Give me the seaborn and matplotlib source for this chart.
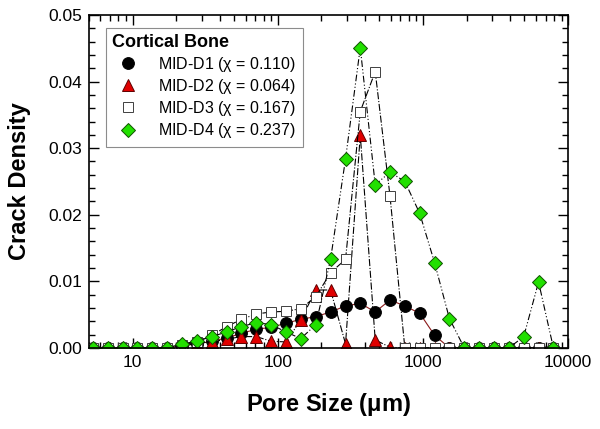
import numpy as np
import pandas as pd
import matplotlib
matplotlib.use("Agg")
import matplotlib.pyplot as plt
from matplotlib.lines import Line2D
from matplotlib.ticker import FixedLocator, NullFormatter, MultipleLocator, FormatStrFormatter
import seaborn as sns

# Porengroesse (um), logarithmische Klassen
pore_size = [5.33, 6.75, 8.55, 10.8, 13.7, 17.3, 21.9, 27.7, 35.1, 44.5, 56.2,
             71.2, 90.1, 114, 144, 183, 231, 293, 370, 469, 593, 750, 950,
             1202, 1521, 1926, 2438, 3085, 3903, 4940, 6252, 7912]

# Rissdichte je Probe
d1 = [0, 0, 0, 0, 0, 0, 0.0003, 0.0006, 0.0010, 0.0015, 0.0022, 0.0028,
      0.0031, 0.0037, 0.0043, 0.0047, 0.0054, 0.0063, 0.0067, 0.0054, 0.0072,
      0.0063, 0.0052, 0.0019, 0, 0, 0, 0, 0, 0, 0, 0]
d2 = [0, 0, 0, 0, 0, 0, 0.0003, 0.0007, 0.0009, 0.0013, 0.0017, 0.0017,
      0.0010, 0.0009, 0.0042, 0.0087, 0.0087, 0.0006, 0.0320, 0.0012, 0.0001,
      0, 0, 0, 0, 0, 0, 0, 0, 0, 0, 0]
d3 = [0, 0, 0, 0, 0, 0, 0.0004, 0.0009, 0.0019, 0.0032, 0.0043, 0.0051,
      0.0054, 0.0055, 0.0059, 0.0077, 0.0113, 0.0133, 0.0355, 0.0415, 0.0228,
      0, 0, 0, 0, 0, 0, 0, 0, 0, 0, 0]
d4 = [0, 0, 0, 0, 0, 0, 0.0006, 0.0010, 0.0017, 0.0024, 0.0032, 0.0038,
      0.0035, 0.0024, 0.0014, 0.0035, 0.0133, 0.0284, 0.0451, 0.0245, 0.0264,
      0.0250, 0.0202, 0.0128, 0.0044, 0, 0, 0, 0, 0.0017, 0.0099, 0]

labels = [r"MID-D1 ($\chi$ = 0.110)", r"MID-D2 ($\chi$ = 0.064)",
          r"MID-D3 ($\chi$ = 0.167)", r"MID-D4 ($\chi$ = 0.237)"]

df = pd.DataFrame({"size": pore_size, "D1": d1, "D2": d2, "D3": d3, "D4": d4})

sns.set_style("ticks")
plt.rcParams['font.family'] = ['Liberation Sans', 'DejaVu Sans']
plt.rcParams['mathtext.fontset'] = 'custom'
plt.rcParams['mathtext.rm'] = 'Liberation Sans'
plt.rcParams['mathtext.it'] = 'Liberation Sans'
plt.rcParams['mathtext.bf'] = 'Liberation Sans:bold'
# Schrift schwarz statt seaborn-grau
for k in ['text.color', 'axes.labelcolor', 'xtick.color', 'ytick.color', 'axes.edgecolor']:
    plt.rcParams[k] = 'black'

fig = plt.figure(figsize=(6, 4.29), dpi=100)
ax = fig.add_axes([0.148, 0.189, 0.799, 0.776])
ax.set_xscale('log')

# Stil je Serie: Marker, Fuellfarbe, Linienfarbe, Linienstil
styles = {
    "D1": dict(marker='o', mfc='black', mec='black', color='#8b1a1a', ls='-', ms=8.5),
    "D2": dict(marker='^', mfc='#e00000', mec='#600000', color='black', ls='-.', ms=8.5),
    "D3": dict(marker='s', mfc='white', mec='#404040', color='black', ls='-.', ms=7.5),
    "D4": dict(marker='D', mfc='#22e000', mec='#105000', color='black', ls=(0, (6, 2, 1, 2, 1, 2)), ms=7.5),
}

handles = []
for key, lab in zip(["D1", "D2", "D3", "D4"], labels):
    st = styles[key]
    sns.lineplot(data=df, x="size", y=key, ax=ax, color=st['color'], linestyle=st['ls'],
                 linewidth=0.8, marker=st['marker'], markersize=st['ms'],
                 markerfacecolor=st['mfc'], markeredgecolor=st['mec'], markeredgewidth=0.7)
    handles.append(Line2D([], [], ls='none', marker=st['marker'], markersize=st['ms'],
                          markerfacecolor=st['mfc'], markeredgecolor=st['mec'],
                          markeredgewidth=0.7, label=lab))

ax.set_xlim(5, 10000)
ax.set_ylim(0, 0.05)
ax.xaxis.set_major_locator(FixedLocator([10, 100, 1000, 10000]))
ax.set_xticklabels(['10', '100', '1000', '10000'])
minors = [m * 10 ** e for e in range(0, 4) for m in range(2, 10)]
ax.xaxis.set_minor_locator(FixedLocator(minors))
ax.xaxis.set_minor_formatter(NullFormatter())
ax.yaxis.set_major_locator(MultipleLocator(0.01))
ax.yaxis.set_minor_locator(MultipleLocator(0.002))
ax.yaxis.set_major_formatter(FormatStrFormatter('%.2f'))

ax.tick_params(which='both', direction='in', top=True, right=True, labelsize=12.5, width=1,
               colors='black')
ax.tick_params(which='major', length=7, pad=5)
ax.tick_params(which='minor', length=4)
for sp in ax.spines.values():
    sp.set_linewidth(1.2)

ax.set_xlabel(r"Pore Size ($\mathbf{\mu}$m)", fontsize=17, fontweight='bold', labelpad=15)
ax.set_ylabel("Crack Density", fontsize=17, fontweight='bold', labelpad=12)

leg = ax.legend(handles=handles, loc='upper left', bbox_to_anchor=(0.035, 0.961),
                title="Cortical Bone", fontsize=11.5, frameon=True, fancybox=False,
                edgecolor='#707070', borderaxespad=0, handletextpad=0.9,
                labelspacing=0.2, borderpad=0.4)
leg.get_title().set_fontweight('bold')
leg.get_title().set_fontsize(13)
leg._legend_box.align = "left"
leg.get_frame().set_linewidth(0.8)
for t in leg.get_texts():
    t.set_color('black')

plt.savefig('out.png', dpi=100)
plt.close()
